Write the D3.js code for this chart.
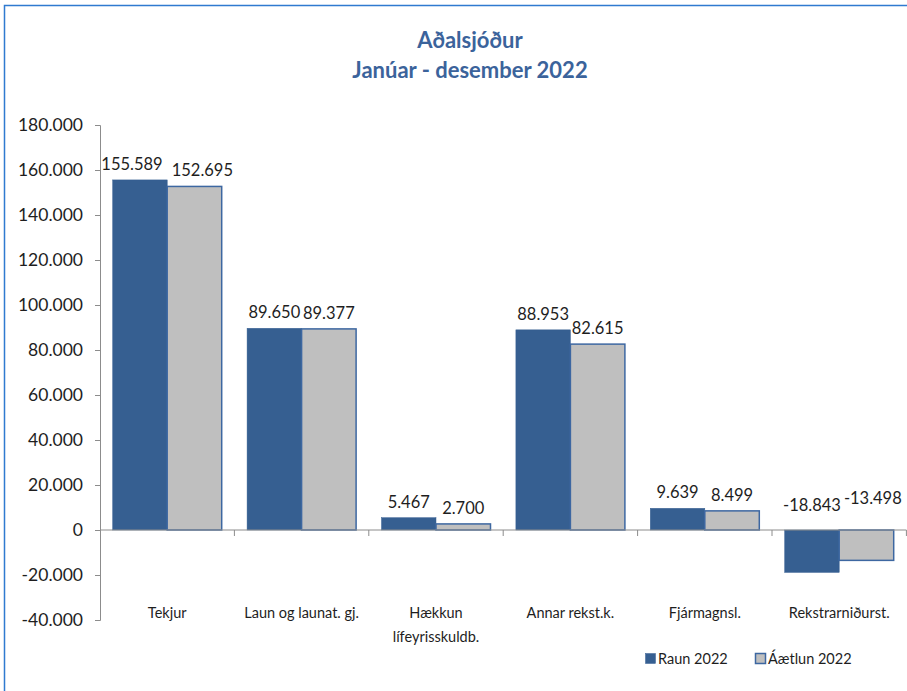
<!DOCTYPE html>
<html lang="is">
<head>
<meta charset="utf-8">
<title>Aðalsjóður - Janúar - desember 2022</title>
<script src="https://d3js.org/d3.v7.min.js"></script>
<style>
  body { margin: 0; background: #fff; }
  svg text { font-family: Lato, "Open Sans", sans-serif; fill: #1e1e1e; }
  .title { font-weight: bold; fill: #3b639b; font-size: 22px; }
  .bar-label { font-size: 16.5px; }
  .cat-label { font-size: 14.5px; }
  .legend text { font-size: 14.5px; }
</style>
</head>
<body>
<script>
// data
var categories = ["Tekjur", "Laun og launat. gj.", "Hækkun\nlífeyrisskuldb.", "Annar rekst.k.", "Fjármagnsl.", "Rekstrarniðurst."];
var seriesNames = ["Raun 2022", "Áætlun 2022"];
var raun = [155589, 89650, 5467, 88953, 9639, -18843];
var aaetlun = [152695, 89377, 2700, 82615, 8499, -13498];
var yTicks = [-40000, -20000, 0, 20000, 40000, 60000, 80000, 100000, 120000, 140000, 160000, 180000];
var titleLines = ["Aðalsjóður", "Janúar - desember 2022"];

var fills = ["#365f91", "#bfbfbf"];
var strokes = ["#365f91", "#3d67a1"];

var W = 907, H = 691;
var plotLeft = 100, plotRight = 906.4, plotTop = 125, plotBottom = 620;

var isLocale = d3.formatLocale({decimal: ",", thousands: ".", grouping: [3], currency: ["", ""], minus: "-"});
var fmt = isLocale.format(",.0f");

var svg = d3.select("body").append("svg")
  .attr("width", W).attr("height", H);

// outer frame
svg.append("rect")
  .attr("x", 4.5).attr("y", 5.5)
  .attr("width", W + 20).attr("height", H + 20)
  .attr("fill", "none").attr("stroke", "#2f7ad0").attr("stroke-width", 1.5);

// title
svg.selectAll("text.title")
  .data(titleLines)
  .enter().append("text")
  .attr("class", "title")
  .attr("x", 470)
  .attr("y", function(d, i) { return 48 + i * 30; })
  .attr("text-anchor", "middle")
  .text(function(d) { return d; });

var y = d3.scaleLinear().domain([-40000, 180000]).range([plotBottom, plotTop]);
var x = d3.scaleBand().domain(categories).range([plotLeft, plotRight]).padding(0);
var xs = d3.scaleBand().domain(seriesNames).range([0, x.bandwidth()]).paddingInner(0).paddingOuter(0.233);

// y axis
var yAxis = d3.axisLeft(y).tickValues(yTicks).tickSize(5).tickPadding(12).tickFormat(fmt);
var gy = svg.append("g").attr("transform", "translate(" + plotLeft + ",0)").call(yAxis);
gy.select(".domain").attr("stroke", "#8c8c8c");
gy.selectAll(".tick line").attr("stroke", "#8c8c8c");
gy.selectAll(".tick text").attr("fill", "#1e1e1e")
  .style("font-family", "Lato, 'Open Sans', sans-serif").style("font-size", "17.5px");

// bars
var rows = categories.map(function(c, i) {
  return {cat: c, vals: [{s: seriesNames[0], k: 0, v: raun[i]}, {s: seriesNames[1], k: 1, v: aaetlun[i]}]};
});

var groups = svg.selectAll("g.grp")
  .data(rows)
  .enter().append("g")
  .attr("class", "grp")
  .attr("transform", function(d) { return "translate(" + x(d.cat) + ",0)"; });

groups.selectAll("rect")
  .data(function(d) { return d.vals; })
  .enter().append("rect")
  .attr("x", function(d) { return xs(d.s); })
  .attr("width", xs.bandwidth())
  .attr("y", function(d) { return y(Math.max(0, d.v)); })
  .attr("height", function(d) { return Math.abs(y(d.v) - y(0)); })
  .attr("fill", function(d) { return fills[d.k]; })
  .attr("stroke", function(d) { return strokes[d.k]; })
  .attr("stroke-width", function(d) { return d.k === 1 ? 1.5 : 0.5; });

// x axis (zero line) with ticks between categories
var xAxisG = svg.append("g");
xAxisG.append("line")
  .attr("x1", plotLeft).attr("x2", plotRight)
  .attr("y1", y(0)).attr("y2", y(0))
  .attr("stroke", "#8c8c8c");
xAxisG.selectAll("line.xt")
  .data(categories)
  .enter().append("line")
  .attr("class", "xt")
  .attr("x1", function(d) { return x(d) + x.bandwidth(); })
  .attr("x2", function(d) { return x(d) + x.bandwidth(); })
  .attr("y1", y(0)).attr("y2", y(0) + 6)
  .attr("stroke", "#8c8c8c");

// data labels, nudged apart where they collide
groups.each(function(d) {
  var g = d3.select(this);
  var labels = d.vals.map(function(v) {
    var t = g.append("text").attr("class", "bar-label")
      .attr("text-anchor", "middle").text(fmt(v.v));
    return {t: t, v: v, cx: xs(v.s) + xs.bandwidth() / 2, w: t.node().getComputedTextLength(), dy: 0};
  });
  var a = labels[0], b = labels[1];
  var overlap = (a.cx + a.w / 2) - (b.cx - b.w / 2);
  if (a.v.v >= 0 && b.v.v >= 0) {
    if (overlap > -2) { var s = (overlap + 9) / 2; a.cx -= s; b.cx += s; }
  } else if (overlap > -4) {
    b.cx += overlap + 3; b.dy = -7;
  }
  labels.forEach(function(l) {
    var base = l.v.v >= 0 ? y(l.v.v) - 10 : y(0) - 19;
    l.t.attr("x", l.cx).attr("y", base + l.dy);
  });
});

// category labels
svg.selectAll("text.cat-label")
  .data(categories)
  .enter().append("text")
  .attr("class", "cat-label")
  .attr("text-anchor", "middle")
  .attr("x", function(d) { return x(d) + x.bandwidth() / 2; })
  .attr("y", 618)
  .each(function(d) {
    var t = d3.select(this);
    d.split("\n").forEach(function(line, i) {
      t.append("tspan").attr("x", t.attr("x")).attr("dy", i ? 24 : 0).text(line);
    });
  });

// legend
var legendX = [645, 755];
var legend = svg.selectAll("g.legend")
  .data(seriesNames)
  .enter().append("g")
  .attr("class", "legend")
  .attr("transform", function(d, i) { return "translate(" + legendX[i] + ",653)"; });
legend.append("rect")
  .attr("x", 0.5).attr("y", 0.5)
  .attr("width", 10).attr("height", 10)
  .attr("fill", function(d, i) { return fills[i]; })
  .attr("stroke", function(d, i) { return strokes[i]; })
  .attr("stroke-width", function(d, i) { return i ? 1.5 : 0.5; });
legend.append("text")
  .attr("x", 13).attr("y", 10.5)
  .text(function(d) { return d; });
</script>
</body>
</html>
